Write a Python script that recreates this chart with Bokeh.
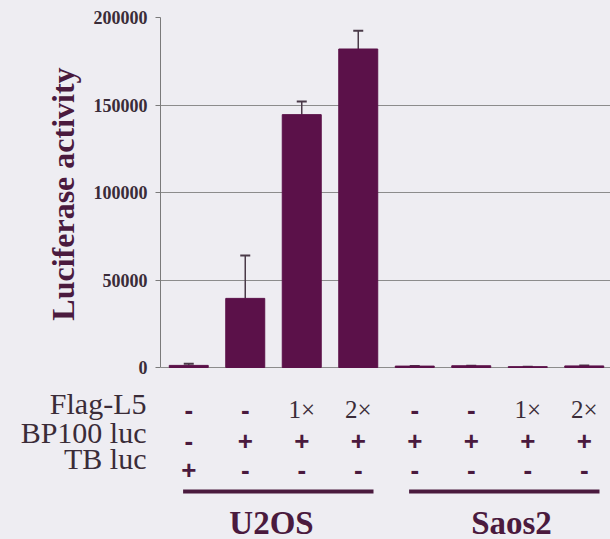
from bokeh.plotting import figure
from bokeh.layouts import column
from bokeh.models import (ColumnDataSource, Range1d, FixedTicker, Whisker, TeeHead,
                          LinearAxis, BasicTickFormatter, Title)
from bokeh.core.properties import value
from bokeh.embed import file_html
from bokeh.resources import INLINE

# --- data -------------------------------------------------------------------
lanes = [0, 1, 2, 3, 4, 5, 6, 7]
luciferase = [1200, 39500, 144500, 182000, 800, 1000, 500, 900]
luciferase_err = [1000, 24500, 7500, 10500, 0, 0, 0, 300]

row_labels = ["Flag-L5", "BP100 luc", "TB luc"]
flag_l5 = ["-", "-", "1\u00d7", "2\u00d7", "-", "-", "1\u00d7", "2\u00d7"]
bp100_luc = ["-", "+", "+", "+", "+", "+", "+", "+"]
tb_luc = ["+", "-", "-", "-", "-", "-", "-", "-"]

cell_lines = ["U2OS", "Saos2"]
cell_line_lanes = [(0, 3), (4, 7)]

y_ticks = [0, 50000, 100000, 150000, 200000]

# --- styling ----------------------------------------------------------------
BG = "#eeedf2"
BAR = "#5b1149"
INK = "#4a1a3e"
TEXT = "#3a2c38"
SERIF = "Liberation Serif"

W = 610
LEFT, TOP = 160, 17
CHART_H = 382                # height of the bar chart part
FRAME_BOTTOM = 370           # lower edge of the bar chart's frame
TABLE_H = 539 - CHART_H      # height of the condition table underneath
PX = 200000 / 350.0          # data units per screen pixel on the y axis
STEP = 56.5                  # screen pixels per lane


def xpx(px):
    """screen column -> lane coordinate"""
    return (px - LEFT) / STEP - 0.5


# --- bar chart --------------------------------------------------------------
p = figure(width=W, height=CHART_H, output_backend="svg", toolbar_location=None,
           x_range=Range1d(-0.5, xpx(W)),
           y_range=Range1d(-(FRAME_BOTTOM - TOP - 350) * PX, 200000),
           min_border_left=LEFT, min_border_top=TOP,
           min_border_right=0, min_border_bottom=CHART_H - FRAME_BOTTOM,
           background_fill_color=BG, border_fill_color=BG,
           outline_line_color=None, y_axis_location=None, x_axis_location=None)

yaxis = LinearAxis(bounds=(0, 200000), ticker=FixedTicker(ticks=y_ticks),
                   formatter=BasicTickFormatter(use_scientific=False))
yaxis.axis_line_color = "#7a7a7a"
yaxis.major_tick_line_color = "#7a7a7a"
yaxis.major_tick_out = 5
yaxis.major_tick_in = 0
yaxis.minor_tick_line_color = None
yaxis.major_label_text_font = SERIF
yaxis.major_label_text_font_style = "bold"
yaxis.major_label_text_font_size = "18px"
yaxis.major_label_text_color = TEXT
yaxis.major_label_standoff = 8
p.add_layout(yaxis, "left")

p.add_layout(Title(text="Luciferase activity", align="center", offset=-7, standoff=20,
                   text_font=SERIF, text_font_style="bold", text_font_size="32px",
                   text_color=INK), "left")

p.xgrid.visible = False
p.ygrid.ticker = FixedTicker(ticks=y_ticks)
p.ygrid.grid_line_color = "#8c8c8c"
p.ygrid.grid_line_width = 1
p.ygrid.bounds = (0, 200000)

src = ColumnDataSource(dict(
    lane=lanes, val=luciferase,
    upper=[v + e for v, e in zip(luciferase, luciferase_err)],
))
p.vbar(x="lane", top="val", bottom=0, width=0.69, source=src,
       fill_color=BAR, line_color=BAR)
p.add_layout(Whisker(base="lane", lower="val", upper="upper", source=src,
                     line_color="#4a3a48", line_width=1.5, lower_head=None,
                     upper_head=TeeHead(size=10, line_color="#4a3a48", line_width=2)))

# --- condition table (same lane scale, y in pixels from the page top) -------
row_y = [403, 432, 458]
t = figure(width=W, height=TABLE_H, output_backend="svg", toolbar_location=None,
           x_range=Range1d(-0.5, xpx(W)),
           y_range=Range1d(539, CHART_H),
           min_border_left=LEFT, min_border_top=0, min_border_right=0,
           min_border_bottom=0, background_fill_color=BG, border_fill_color=BG,
           outline_line_color=None, x_axis_location=None, y_axis_location=None)
t.grid.visible = False

# row names as the table's left axis labels
rows_axis = LinearAxis(ticker=FixedTicker(ticks=row_y),
                       major_label_overrides=dict(zip(row_y, row_labels)))
rows_axis.axis_line_color = None
rows_axis.major_tick_line_color = None
rows_axis.minor_tick_line_color = None
rows_axis.major_tick_out = 0
rows_axis.major_label_standoff = 14
rows_axis.major_label_text_font = SERIF
rows_axis.major_label_text_font_size = "30px"
rows_axis.major_label_text_color = TEXT
t.add_layout(rows_axis, "left")

for row, cy in zip([flag_l5, bp100_luc, tb_luc], [409, 440, 469]):
    signs = [(x, s) for x, s in zip(lanes, row) if s in "+-"]
    mult = [(x, s) for x, s in zip(lanes, row) if s not in "+-"]
    if signs:
        t.text(x=[s[0] for s in signs], y=[cy] * len(signs), text=[s[1] for s in signs],
               text_align="center", text_baseline="middle",
               text_font=value("Liberation Sans"), text_font_style="bold",
               text_font_size="26px", text_color=INK)
    if mult:
        t.text(x=[m[0] for m in mult], y=[cy] * len(mult), text=[m[1] for m in mult],
               text_align="center", text_baseline="middle",
               text_font=value(SERIF), text_font_size="25px", text_color=TEXT)

t.segment(x0=[a - 0.1 for a, b in cell_line_lanes], x1=[b + 0.27 for a, b in cell_line_lanes],
          y0=[491] * 2, y1=[491] * 2, line_color=INK, line_width=4)
t.text(x=[xpx(271), xpx(511)], y=[522] * 2, text=cell_lines, text_align="center",
       text_baseline="middle", text_font=value(SERIF), text_font_style="bold",
       text_font_size="33px", text_color=INK)

layout = column(p, t, spacing=0, styles={"background-color": BG})
open("out.html", "w").write(file_html(layout, INLINE))
